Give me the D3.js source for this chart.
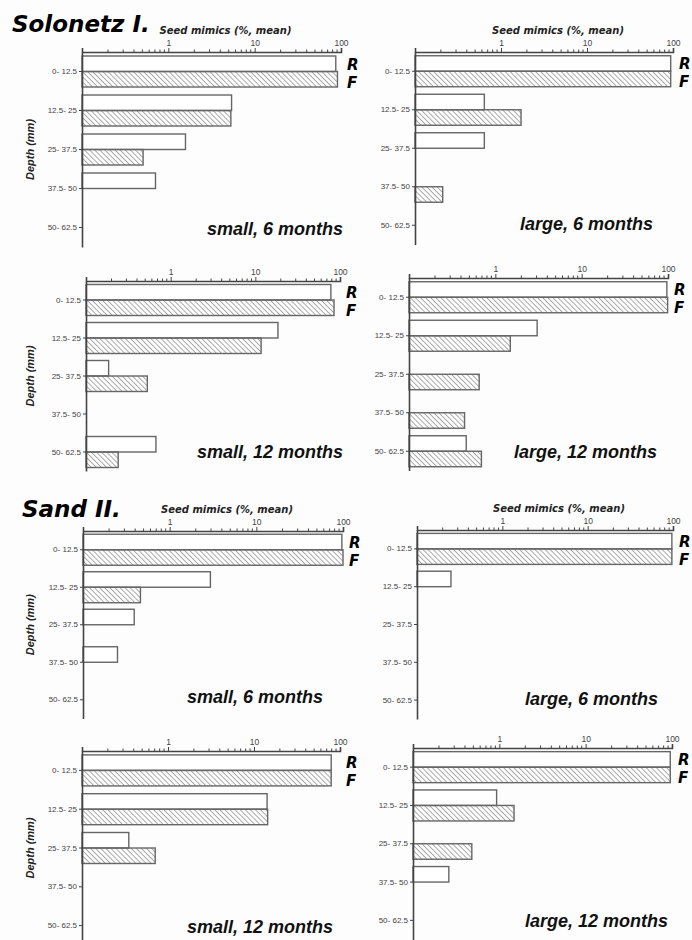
<!DOCTYPE html>
<html>
<head>
<meta charset="utf-8">
<script src="https://cdn.jsdelivr.net/npm/d3@7"></script>
<style>
  body { margin: 0; background: #fdfdfd; }
  svg { display: block; }
  .tick text { fill: #444; }
</style>
</head>
<body>
<div id="chart"></div>
<script>
// depth classes (y categories) and series keys
var depths = ["0- 12.5", "12.5- 25", "25- 37.5", "37.5- 50", "50- 62.5"];
var series = ["R", "F"];
var xTickLabels = [1, 10, 100];

// seed mimics (%, mean) per depth, null = no bar
var solonetzSmall6R = [87, 5.4, 1.58, 0.71, null];
var solonetzSmall6F = [91, 5.3, 0.51, null, null];
var solonetzLarge6R = [94, 0.64, 0.64, null, null];
var solonetzLarge6F = [94, 1.71, null, 0.21, null];
var solonetzSmall12R = [78, 18.5, 0.185, null, 0.67];
var solonetzSmall12F = [85, 11.7, 0.53, null, 0.24];
var solonetzLarge12R = [97, 3.05, null, null, 0.46];
var solonetzLarge12F = [99, 1.49, 0.65, 0.44, 0.69];
var sandSmall6R = [97, 2.95, 0.39, 0.25, null];
var sandSmall6F = [100, 0.46, null, null, null];
var sandLarge6R = [97, 0.25, null, null, null];
var sandLarge6F = [97, null, null, null, null];
var sandSmall12R = [79, 14.2, 0.35, null, null];
var sandSmall12F = [79, 14.4, 0.71, null, null];
var sandLarge12R = [95.5, 0.93, null, 0.26, null];
var sandLarge12F = [95.5, 1.48, 0.48, null, null];

var W = 692, H = 940;

var svg = d3.select("#chart").append("svg")
    .attr("width", W).attr("height", H);

// hatch for the F bars
var defs = svg.append("defs");
defs.append("pattern")
    .attr("id", "hatch")
    .attr("patternUnits", "userSpaceOnUse")
    .attr("width", 3.6).attr("height", 3.6)
    .attr("patternTransform", "rotate(-45)")
  .append("line")
    .attr("x1", 0).attr("y1", 0).attr("x2", 0).attr("y2", 3.6)
    .attr("stroke", "#6a6a6a").attr("stroke-width", 1.1);

// panel layout (axis left, top, right end of 100, band height, label)
var panels = [
  {x0: 82,  top: 52,  x1: 341, band: 39,   R: solonetzSmall6R,  F: solonetzSmall6F,  label: "small, 6 months",  lx: 343, ly: 235, left: true,  head: true},
  {x0: 415, top: 52,  x1: 673, band: 38.5, R: solonetzLarge6R,  F: solonetzLarge6F,  label: "large, 6 months",  lx: 653, ly: 230, left: false, head: true},
  {x0: 86,  top: 281, x1: 340, band: 38,   R: solonetzSmall12R, F: solonetzSmall12F, label: "small, 12 months", lx: 343, ly: 458, left: true,  head: false},
  {x0: 409, top: 278, x1: 668, band: 38.5, R: solonetzLarge12R, F: solonetzLarge12F, label: "large, 12 months", lx: 657, ly: 458, left: false, head: false},
  {x0: 83,  top: 531, x1: 343, band: 37.5, R: sandSmall6R,      F: sandSmall6F,      label: "small, 6 months",  lx: 323, ly: 703, left: true,  head: true},
  {x0: 417, top: 530, x1: 673, band: 37.8, R: sandLarge6R,      F: sandLarge6F,      label: "large, 6 months",  lx: 658, ly: 705, left: false, head: true},
  {x0: 82,  top: 751, x1: 340, band: 38.8, R: sandSmall12R,     F: sandSmall12F,     label: "small, 12 months", lx: 333, ly: 933, left: true,  head: false},
  {x0: 413, top: 748, x1: 672, band: 38.3, R: sandLarge12R,     F: sandLarge12F,     label: "large, 12 months", lx: 668, ly: 927, left: false, head: false}
];

// minor ticks 0.2..90
var minorTicks = [];
[0.1, 1, 10].forEach(function(d) {
    for (var k = 2; k <= 9; k++) minorTicks.push(d * k);
});

panels.forEach(drawPanel);

function drawPanel(p) {
    var g = svg.append("g");
    var x = d3.scaleLog().domain([0.1, 100]).range([p.x0, p.x1]);
    var y = d3.scaleBand().domain(depths).range([p.top, p.top + 5 * p.band]);
    var sub = d3.scaleBand().domain(series).range([0, 31]);

    // bars
    series.forEach(function(s) {
        var vals = p[s];
        g.selectAll("rect.bar" + s)
            .data(depths.map(function(d, i) { return {depth: d, v: vals[i]}; })
                        .filter(function(d) { return d.v != null; }))
          .enter().append("rect")
            .attr("class", "bar" + s)
            .attr("x", x(0.1))
            .attr("y", function(d) { return y(d.depth) + p.band / 2 - 15.5 + sub(s); })
            .attr("width", function(d) { return x(d.v) - x(0.1); })
            .attr("height", sub.bandwidth())
            .attr("fill", s == "R" ? "#fff" : "url(#hatch)")
            .attr("stroke", "#666")
            .attr("stroke-width", 1.4);
    });

    // top log axis: major ticks
    var xAxis = g.append("g")
        .attr("transform", "translate(0," + p.top + ")")
        .call(d3.axisTop(x).tickValues(xTickLabels).tickFormat(d3.format("d"))
              .tickSize(4).tickPadding(2));
    xAxis.select(".domain").attr("stroke", "#444").attr("stroke-width", 1.6);
    xAxis.selectAll(".tick line").attr("stroke", "#444");
    xAxis.selectAll("text").style("font", "8.5px 'Liberation Sans', Arial, sans-serif");

    // minor ticks
    g.append("g").selectAll("line")
        .data(minorTicks)
      .enter().append("line")
        .attr("x1", function(d) { return x(d); }).attr("x2", function(d) { return x(d); })
        .attr("y1", p.top).attr("y2", p.top - 2.5)
        .attr("stroke", "#444").attr("stroke-width", 1);

    // left depth axis
    var yAxis = g.append("g")
        .attr("transform", "translate(" + p.x0 + ",0)")
        .call(d3.axisLeft(y).tickSize(3).tickPadding(2).tickSizeOuter(0));
    yAxis.select(".domain").attr("stroke", "#444").attr("stroke-width", 1.6);
    yAxis.selectAll(".tick line").attr("stroke", "#444");
    yAxis.selectAll("text").style("font", "8px 'Liberation Sans', Arial, sans-serif");

    if (p.head) {
        g.append("text")
            .attr("x", (p.x0 + p.x1) / 2 + 14)
            .attr("y", p.top - 18)
            .attr("text-anchor", "middle")
            .style("font", "italic bold 10px 'DejaVu Sans', sans-serif")
            .attr("fill", "#222")
            .text("Seed mimics (%, mean)");
    }

    if (p.left) {
        var cy = y(depths[2]) + p.band / 2;
        g.append("text")
            .attr("transform", "translate(34," + cy + ") rotate(-90)")
            .attr("text-anchor", "middle")
            .style("font", "italic bold 11px 'Liberation Sans', Arial, sans-serif")
            .attr("fill", "#222")
            .text("Depth (mm)");
    }

    // R / F keys
    var c0 = y(depths[0]) + p.band / 2;
    g.append("text").attr("x", p.x1 + 6).attr("y", c0 - 2)
        .style("font", "italic bold 15px 'DejaVu Sans', sans-serif")
        .text("R");
    g.append("text").attr("x", p.x1 + 6).attr("y", c0 + 16)
        .style("font", "italic bold 15px 'DejaVu Sans', sans-serif")
        .text("F");

    g.append("text")
        .attr("x", p.lx).attr("y", p.ly)
        .attr("text-anchor", "end")
        .style("font", "italic bold 18px 'Liberation Sans', Arial, sans-serif")
        .attr("fill", "#111")
        .text(p.label);
}

// site titles
svg.append("text").attr("x", 12).attr("y", 32)
    .style("font", "italic bold 23px 'DejaVu Sans', sans-serif")
    .text("Solonetz I.");
svg.append("text").attr("x", 22).attr("y", 517)
    .style("font", "italic bold 23px 'DejaVu Sans', sans-serif")
    .text("Sand II.");
</script>
</body>
</html>
